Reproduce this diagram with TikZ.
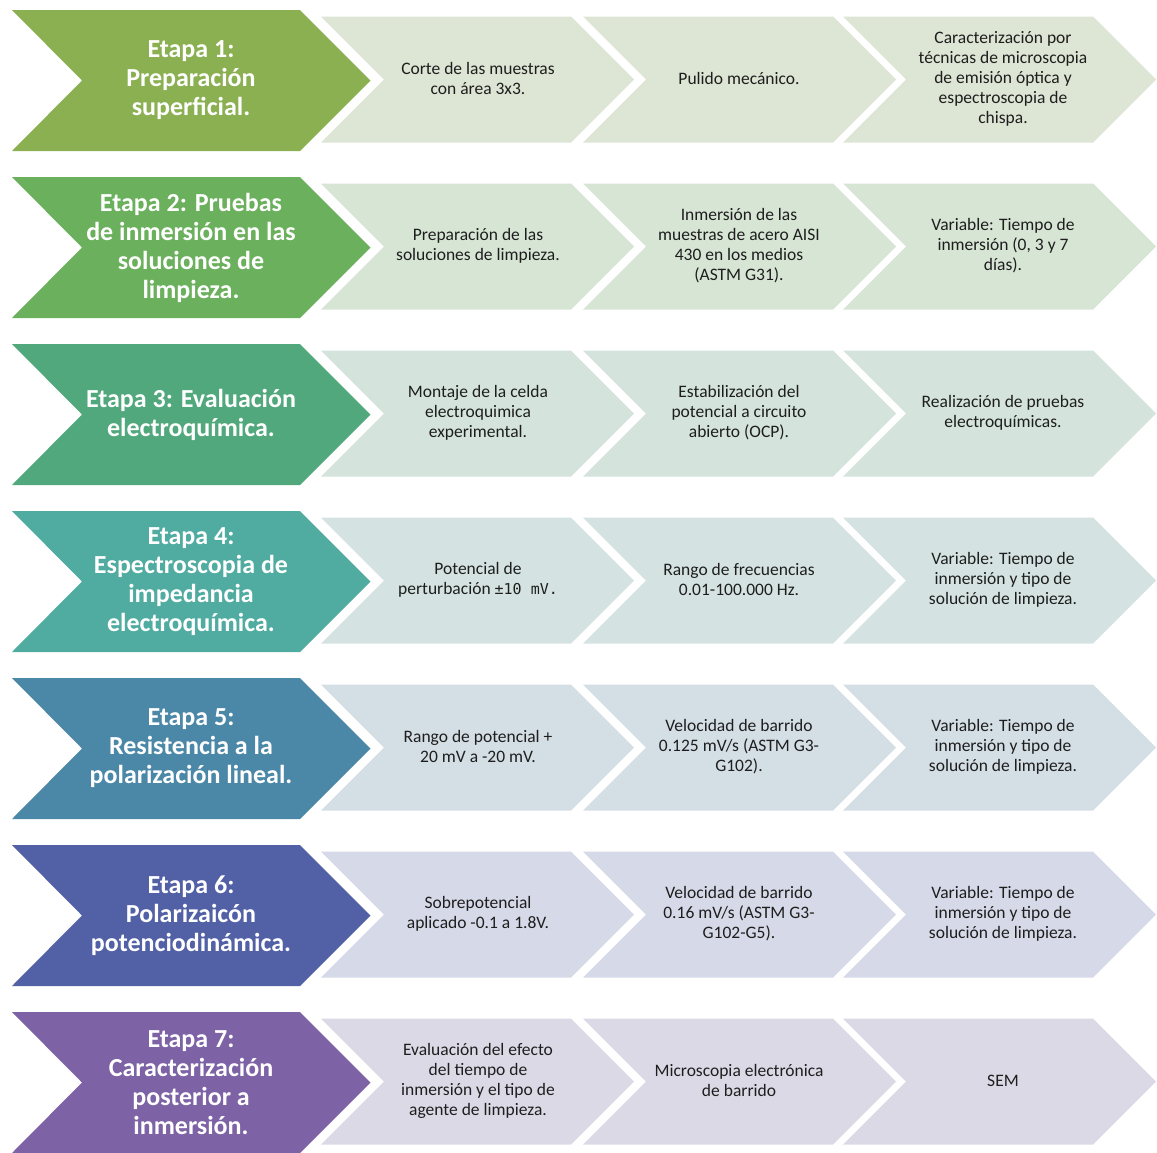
\documentclass[tikz,border=0pt]{standalone}
\usepackage{fontspec}
\setmainfont{Carlito}
\newfontfamily\monofont{DejaVu Sans Mono}

\definecolor{stageA}{HTML}{8BB052}
\definecolor{stepA}{HTML}{DDE5D4}
\definecolor{stageB}{HTML}{6BB05C}
\definecolor{stepB}{HTML}{D7E5D5}
\definecolor{stageC}{HTML}{52A87D}
\definecolor{stepC}{HTML}{D4E4DC}
\definecolor{stageD}{HTML}{50ABA0}
\definecolor{stepD}{HTML}{D4E3E1}
\definecolor{stageE}{HTML}{4B88A8}
\definecolor{stepE}{HTML}{D4DEE5}
\definecolor{stageF}{HTML}{5260A6}
\definecolor{stepF}{HTML}{D6D9E7}
\definecolor{stageG}{HTML}{7D62A6}
\definecolor{stepG}{HTML}{DCD9E6}
\definecolor{steptxt}{HTML}{1E1E1E}

% large stage chevron: #1 centre y, #2 colour
\newcommand\stagechev[2]{%
  \fill[#2] (12,#1-70.5) -- (300,#1-70.5) -- (370.5,#1) -- (300,#1+70.5)
    -- (12,#1+70.5) -- (82,#1) -- cycle;}
% small step chevron: #1 left x, #2 centre y, #3 colour
\newcommand\stepchev[3]{%
  \fill[#3] (#1,#2-63) -- (#1+250,#2-63) -- (#1+313,#2) -- (#1+250,#2+63)
    -- (#1,#2+63) -- (#1+63,#2) -- cycle;}
% one row: #1 centre y, #2 stage colour, #3 step colour, #4 name,
% #5 stage text, #6-#8 step texts
\newcommand\stagerow[8]{%
  \stagechev{#1}{#2}%
  \stepchev{321}{#1-1}{#3}%
  \stepchev{583}{#1-1}{#3}%
  \stepchev{843}{#1-1}{#3}%
  \node[stagetext] (#4) at (191,#1) {#5};
  \node[steptext] (#4a) at (478,#1-2) {#6};
  \node[steptext] (#4b) at (739,#1-2) {#7};
  \node[steptext] (#4c) at (1003,#1-2) {#8};
}

\begin{document}
\begin{tikzpicture}[x=1pt,y=-1pt,
  stagetext/.style={text=white, font=\fontsize{26}{29}\selectfont\bfseries,
    align=center, inner sep=0pt},
  steptext/.style={text=steptxt, font=\fontsize{17.5}{20}\selectfont,
    align=center, inner sep=0pt}]
\useasboundingbox[fill=white] (0,0) rectangle (1157,1152);

\stagerow{80.5}{stageA}{stepA}{s1}
  {Etapa 1:\\Preparación\\superficial.}
  {Corte de las muestras\\con área 3x3.}
  {Pulido mecánico.}
  {Caracterización por\\técnicas de microscopia\\de emisión óptica y\\espectroscopia de\\chispa.}

\stagerow{247.5}{stageB}{stepB}{s2}
  {Etapa 2: Pruebas\\de inmersión en las\\soluciones de\\limpieza.}
  {Preparación de las\\soluciones de limpieza.}
  {Inmersión de las\\muestras de acero AISI\\430 en los medios\\(ASTM G31).}
  {Variable: Tiempo de\\inmersión (0, 3 y 7\\días).}

\stagerow{414.5}{stageC}{stepC}{s3}
  {Etapa 3: Evaluación\\electroquímica.}
  {Montaje de la celda\\electroquimica\\experimental.}
  {Estabilización del\\potencial a circuito\\abierto (OCP).}
  {Realización de pruebas\\electroquímicas.}

\stagerow{581.5}{stageD}{stepD}{s4}
  {Etapa 4:\\Espectroscopia de\\impedancia\\electroquímica.}
  {Potencial de\\perturbación {\monofont\fontsize{15}{20}\selectfont ±10 mV.}}
  {Rango de frecuencias\\0.01-100.000 Hz.}
  {Variable: Tiempo de\\inmersión y tipo de\\solución de limpieza.}

\stagerow{748.5}{stageE}{stepE}{s5}
  {Etapa 5:\\Resistencia a la\\polarización lineal.}
  {Rango de potencial +\\20 mV a -20 mV.}
  {Velocidad de barrido\\0.125 mV/s (ASTM G3-\\G102).}
  {Variable: Tiempo de\\inmersión y tipo de\\solución de limpieza.}

\stagerow{915.5}{stageF}{stepF}{s6}
  {Etapa 6:\\Polarizaicón\\potenciodinámica.}
  {Sobrepotencial\\aplicado -0.1 a 1.8V.}
  {Velocidad de barrido\\0.16 mV/s (ASTM G3-\\G102-G5).}
  {Variable: Tiempo de\\inmersión y tipo de\\solución de limpieza.}

\stagerow{1082.5}{stageG}{stepG}{s7}
  {Etapa 7:\\Caracterización\\posterior a\\inmersión.}
  {Evaluación del efecto\\del tiempo de\\inmersión y el tipo de\\agente de limpieza.}
  {Microscopia electrónica\\de barrido}
  {SEM}
\end{tikzpicture}
\end{document}
